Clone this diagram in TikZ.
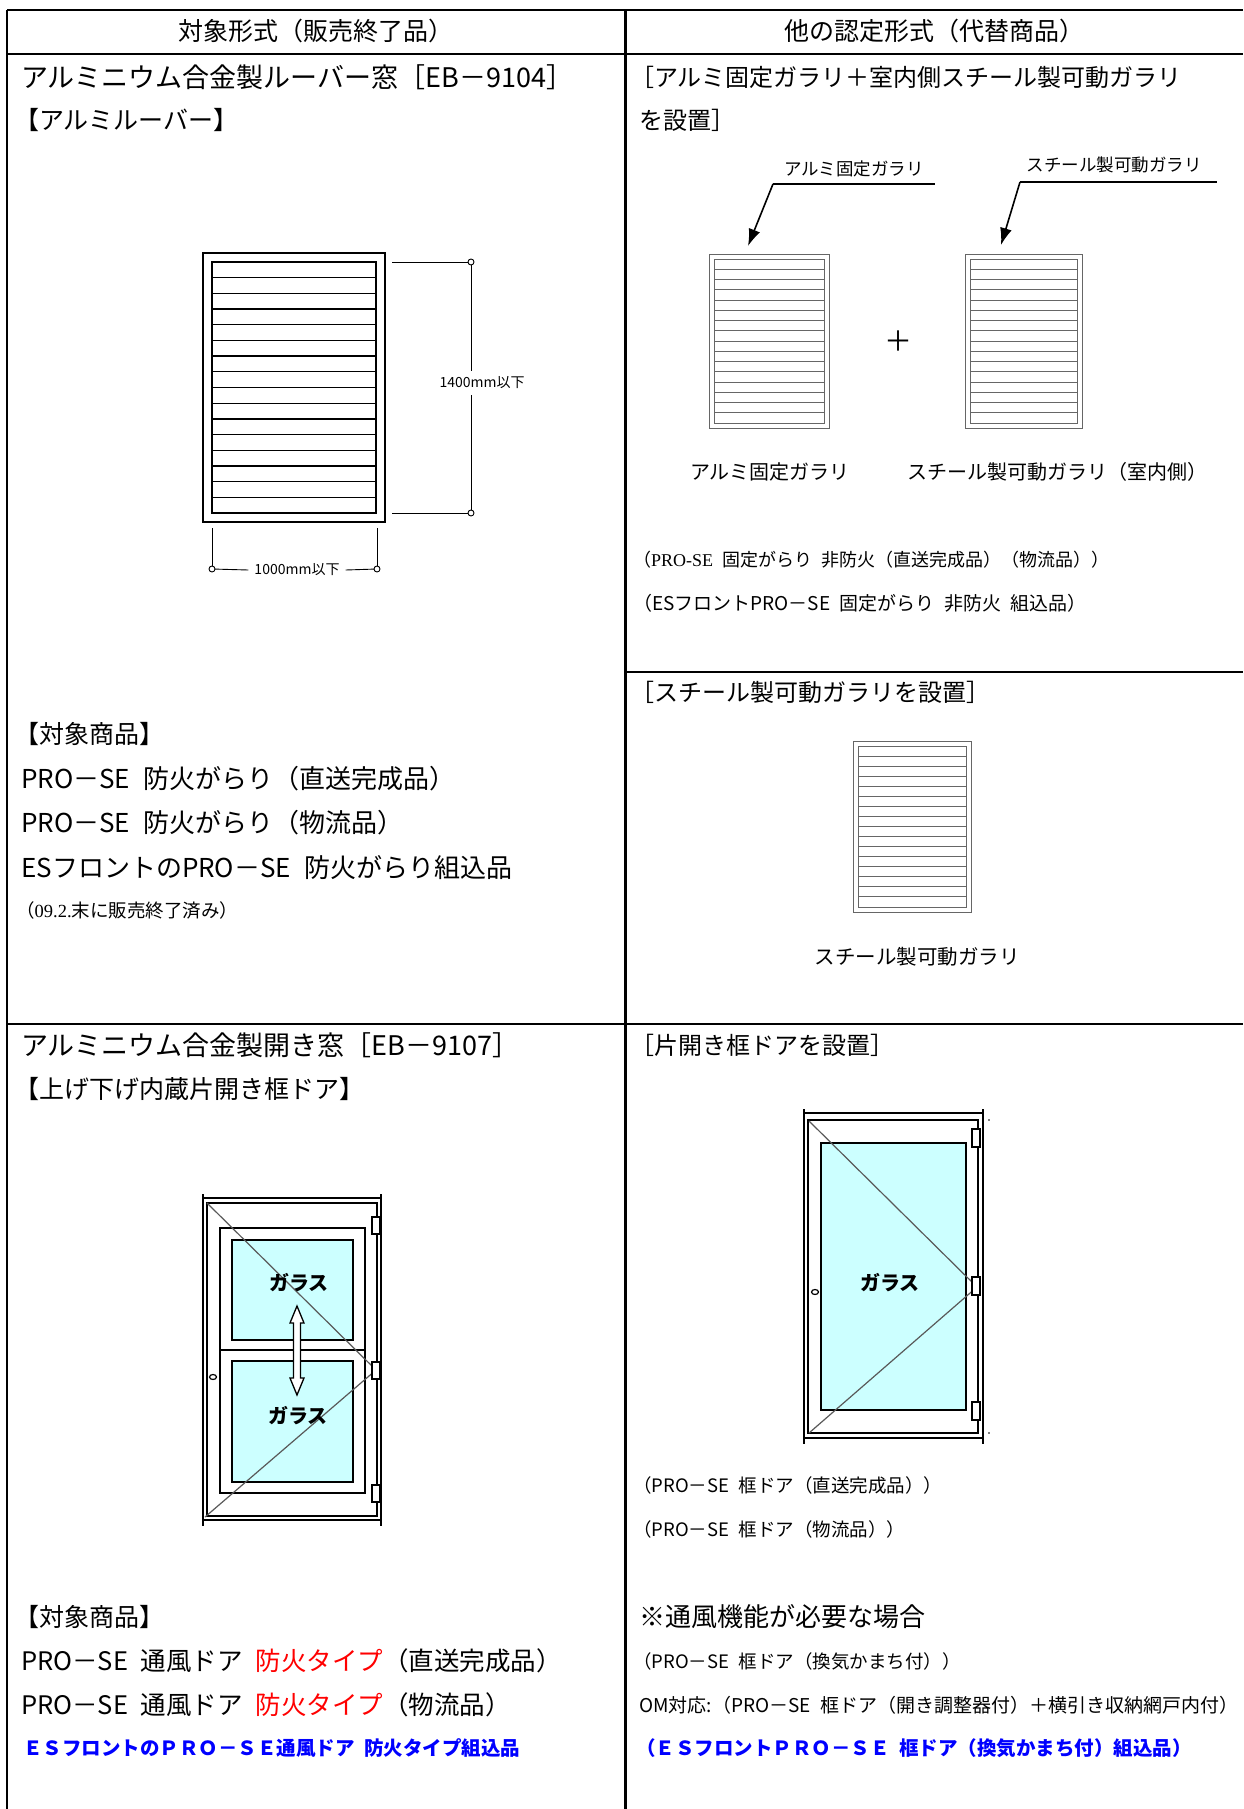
\documentclass[tikz,border=0pt]{standalone}
\usepackage{fontspec}
\setmainfont{Noto Sans CJK JP}
\newfontfamily\serifnum{Liberation Serif}
\usetikzlibrary{arrows.meta}
\definecolor{glasscyan}{HTML}{CCFFFF}
\definecolor{firered}{HTML}{FF0000}
\definecolor{esblue}{HTML}{0000FF}
\newcommand{\jsp}{\hspace{0.5em}}
\newcommand{\fsz}[1]{\fontsize{#1}{#1}\selectfont}
% louver: x0, y0, x1, y1 (outer frame), inset
\newcommand{\louver}[5]{%
  \draw (#1,#2) rectangle (#3,#4);
  \draw (#1+#5,#2+#5) rectangle (#3-#5,#4-#5);
  \foreach \k in {1,...,15}
    \draw (#1+#5,{#2+#5+\k*(#4-#2-2*#5)/16}) -- (#3-#5,{#2+#5+\k*(#4-#2-2*#5)/16});
}
\tikzset{
  tableline/.style={line width=2.6pt},
  head/.style={inner sep=0pt, font=\fsz{25}},
  cell/.style={anchor=west, inner sep=0pt, font=\fsz{26}},
  cellr/.style={anchor=west, inner sep=0pt, font=\fsz{24}},
  note/.style={anchor=west, inner sep=0pt, font=\fsz{18.5}},
  caption/.style={inner sep=0pt, font=\fsz{20}},
  tag/.style={inner sep=0pt, font=\fsz{17.5}},
  dimlabel/.style={inner sep=6pt, font=\fsz{14}},
  glasslabel/.style={inner sep=0pt, font=\bfseries\fsz{20}},
  bluebold/.style={anchor=west, inner sep=0pt, text=esblue, font=\bfseries\fsz{19.5}},
  leader/.style={line width=1.6pt, -{Latex[length=17pt,width=12pt]}},
  dimline/.style={line width=0.9pt},
  dimend/.style={line width=0.9pt, fill=white},
  frame/.style={line width=1.2pt},
  glass/.style={line width=1.2pt, fill=glasscyan},
  diag/.style={line width=1.2pt, black!65},
}
\begin{document}
\begin{tikzpicture}[x=1pt, y=-1pt]
\useasboundingbox (0,0) rectangle (1243,1809);
\fill[white] (0,0) rectangle (1243,1809);

% table
\draw[tableline] (7,10) -- (1243,10);
\draw[tableline] (7,54) -- (1243,54);
\draw[tableline] (625,672) -- (1243,672);
\draw[tableline] (7,1024) -- (1243,1024);
\draw[tableline] (7,10) -- (7,1809);
\draw[tableline] (625.5,10) -- (625.5,1809);

\node[head] (headleft) at (316,31) {対象形式（販売終了品）};
\node[head] (headright) at (934,31) {他の認定形式（代替商品）};

% row 1, left
\node[cell, font=\fsz{27}] (louvertitle) at (21,77) {アルミニウム合金製ルーバー窓［EB－9104］};
\node[cell, font=\fsz{25}] (louversub) at (14,120) {【アルミルーバー】};
\begin{scope}[line width=1.3pt]
  \louver{203}{253}{385}{522}{9}
\end{scope}
\coordinate (dimtop) at (471,262);
\coordinate (dimbot) at (471,513);
\coordinate (dimleft) at (212,569);
\coordinate (dimright) at (377,569);
\node[dimlabel] (dimh) at (482,383) {1400mm以下};
\node[dimlabel] (dimw) at (297,570) {1000mm以下};
\draw[dimline] (392,262) -- (dimtop);
\draw[dimline] (392,513) -- (dimbot);
\draw[dimline] (dimtop) -- (dimtop |- dimh.north);
\draw[dimline] (dimbot) -- (dimbot |- dimh.south);
\draw[dimline] (212,528) -- (dimleft);
\draw[dimline] (377,528) -- (dimright);
\draw[dimline] (dimleft) -- (dimw.west);
\draw[dimline] (dimright) -- (dimw.east);
\foreach \p in {dimtop,dimbot,dimleft,dimright}
  \draw[dimend] (\p) circle (3pt);

\node[cell, font=\fsz{25}] (target1) at (14,734) {【対象商品】};
\node[cell] (item11) at (21,779) {PRO－SE\jsp 防火がらり（直送完成品）};
\node[cell] (item12) at (21,823) {PRO－SE\jsp 防火がらり（物流品）};
\node[cell] (item13) at (21,868) {ESフロントのPRO－SE\jsp 防火がらり組込品};
\node[note] (endnote) at (16,910) {（{\serifnum 09.2.}末に販売終了済み）};

% row 1, right
\node[cellr] (alttitle1) at (630,77) {［アルミ固定ガラリ＋室内側スチール製可動ガラリ};
\node[cellr] (alttitle1b) at (639,120) {を設置］};
\node[tag] (fixlabel) at (854,169) {アルミ固定ガラリ};
\node[tag] (movlabel) at (1114,165) {スチール製可動ガラリ};
\coordinate (fixbend) at (773,184);
\coordinate (fixend) at (935,184);
\coordinate (fixtip) at (748,246);
\coordinate (movbend) at (1020,182);
\coordinate (movend) at (1217,182);
\coordinate (movtip) at (1001,245);
\draw[line width=1.6pt] (fixbend) -- (fixend);
\draw[line width=1.6pt] (movbend) -- (movend);
\draw[leader] (fixbend) -- (fixtip);
\draw[leader] (movbend) -- (movtip);
\begin{scope}[line width=0.9pt, black!60]
  \louver{709}{254}{829}{428}{5}
  \louver{965}{254}{1082}{428}{5}
\end{scope}
\node[font=\fsz{28}] (plus) at (898,341) {＋};
\node[caption] (fixcap) at (770,472) {アルミ固定ガラリ};
\node[caption] (movcap) at (1057,472) {スチール製可動ガラリ（室内側）};
\node[note, font=\fsz{18}] (fixnote1) at (633,560) {（{\serifnum PRO-SE}\jsp 固定がらり\jsp 非防火（直送完成品）（物流品））};
\node[note, font=\fsz{19}] (fixnote2) at (633,603) {（ESフロントPRO－SE\jsp 固定がらり\jsp 非防火\jsp 組込品）};

\node[cellr] (alttitle2) at (630,692) {［スチール製可動ガラリを設置］};
\begin{scope}[line width=0.9pt, black!60]
  \louver{853}{741}{971}{912}{5}
\end{scope}
\node[caption, font=\fsz{20.5}] (movcap2) at (917,957) {スチール製可動ガラリ};

% row 2, left
\node[cell, font=\fsz{27}] (doortitle) at (21,1045) {アルミニウム合金製開き窓［EB－9107］};
\node[cell, font=\fsz{25}] (doorsub) at (14,1089) {【上げ下げ内蔵片開き框ドア】};
\draw[frame] (203,1198) rectangle (381,1520);
\draw[frame] (207,1203) rectangle (377,1516);
\draw[frame] (203,1194) -- (203,1526);
\draw[frame] (381,1194) -- (381,1526);
\draw[frame] (220,1228) rectangle (365,1493);
\draw[frame] (220,1350) -- (365,1350);
\draw[glass] (232,1240) rectangle (353,1340);
\draw[glass] (232,1361) rectangle (353,1482);
\draw[diag] (207,1203) -- (376,1370) -- (205,1517);
\foreach \hy in {1217,1362,1485}
  \draw[frame, fill=white] (372,\hy) rectangle (380,\hy+17);
\draw[frame, fill=white] (213,1377) ellipse (3.5pt and 2.5pt);
\draw[line width=1.3pt, fill=white] (297,1306) -- (304,1323) -- (300.5,1323) -- (300.5,1378)
  -- (304,1378) -- (297,1395) -- (290,1378) -- (293.5,1378) -- (293.5,1323) -- (290,1323) -- cycle;
\node[glasslabel] (glassup) at (299,1283) {ガラス};
\node[glasslabel] (glassdown) at (298,1416) {ガラス};

\node[cell, font=\fsz{25}] (target2) at (14,1617) {【対象商品】};
\node[cell, font=\fsz{25.5}] (item21) at (21,1661) {PRO－SE\jsp 通風ドア\jsp \textcolor{firered}{防火タイプ}（直送完成品）};
\node[cell, font=\fsz{25.5}] (item22) at (21,1705) {PRO－SE\jsp 通風ドア\jsp \textcolor{firered}{防火タイプ}（物流品）};
\node[bluebold] (item23) at (23,1748) {ＥＳフロントのＰＲＯ－ＳＥ通風ドア\jsp 防火タイプ組込品};

% row 2, right
\node[cellr] (alttitle3) at (630,1045) {［片開き框ドアを設置］};
\draw[frame] (804,1113) rectangle (983,1438);
\draw[frame] (808,1120) rectangle (978,1433);
\draw[frame] (804,1109) -- (804,1444);
\draw[frame] (983,1109) -- (983,1444);
\draw[glass] (821,1143) rectangle (966,1410);
\draw[diag] (809,1121) -- (977,1287) -- (809,1433);
\foreach \hy in {1129,1277,1402}
  \draw[frame, fill=white] (972,\hy) rectangle (980,\hy+18);
\draw[frame, fill=white] (815,1292) ellipse (3.5pt and 2.5pt);
\fill (989,1120) circle (0.8pt);
\fill (989,1433) circle (0.8pt);
\node[glasslabel] (glassone) at (890,1283) {ガラス};

\node[note] (doornote1) at (633,1485) {（PRO－SE\jsp 框ドア（直送完成品））};
\node[note] (doornote2) at (633,1529) {（PRO－SE\jsp 框ドア（物流品））};
\node[cell] (ventnote) at (639,1617) {※通風機能が必要な場合};
\node[note] (ventitem1) at (633,1661) {（PRO－SE\jsp 框ドア（換気かまち付））};
\node[note, font=\fsz{19}] (ventitem2) at (639,1705) {OM対応:（PRO－SE\jsp 框ドア（開き調整器付）＋横引き収納網戸内付）};
\node[bluebold] (ventitem3) at (636,1748) {（ＥＳフロントＰＲＯ－ＳＥ\jsp 框ドア（換気かまち付）組込品）};
\end{tikzpicture}
\end{document}
